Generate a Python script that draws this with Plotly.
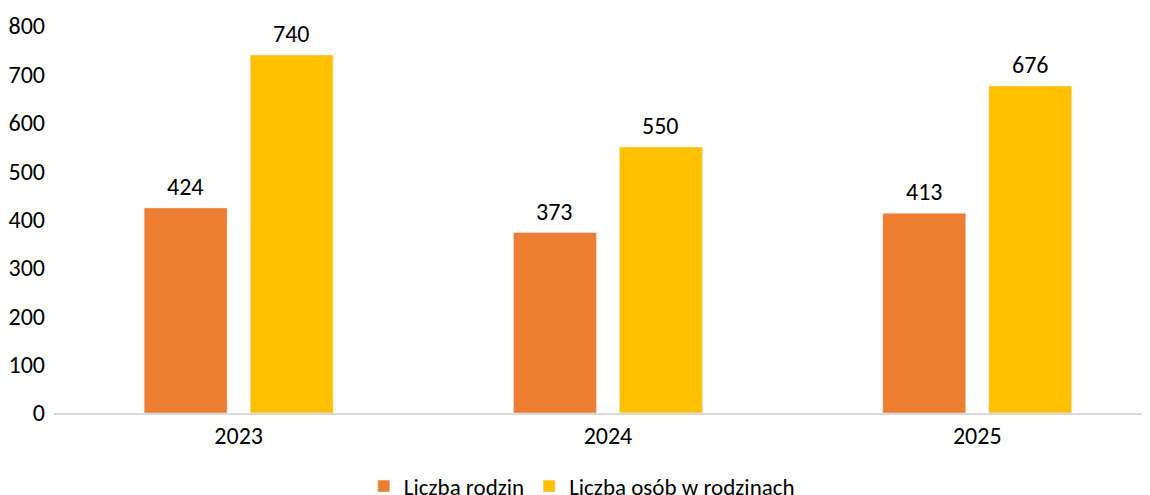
import plotly.graph_objects as go

years = ["2023", "2024", "2025"]
rodziny = [424, 373, 413]
osoby = [740, 550, 676]
y_ticks = [0, 100, 200, 300, 400, 500, 600, 700, 800]

FONT = "Calibri, Carlito, Lato, sans-serif"
FS = 24

fig = go.Figure()
fig.add_trace(go.Bar(name="Liczba rodzin", x=years, y=rodziny, marker_color="#ED7D31"))
fig.add_trace(go.Bar(name="Liczba osób w rodzinach", x=years, y=osoby, marker_color="#FFC000"))

for i, v in enumerate(rodziny):
    fig.add_annotation(x=i, y=v, text=str(v), showarrow=False, xref="x", yref="y",
                       yanchor="bottom", yshift=5, xshift=-53,
                       font=dict(size=FS, color="#000000", family=FONT))
for i, v in enumerate(osoby):
    fig.add_annotation(x=i, y=v, text=str(v), showarrow=False, xref="x", yref="y",
                       yanchor="bottom", yshift=5, xshift=53,
                       font=dict(size=FS, color="#000000", family=FONT))

fig.update_layout(
    width=1142, height=487,
    margin=dict(l=46, r=1, t=18, b=82, autoexpand=False),
    paper_bgcolor="white", plot_bgcolor="white",
    barmode="group", bargap=0.426, bargroupgap=0.217,
    font=dict(family=FONT, size=FS, color="#000000"),
    showlegend=True,
    legend=dict(orientation="h", x=0.482, xanchor="center", y=-0.189, yanchor="middle",
                font=dict(size=23, color="#000000", family=FONT),
                bgcolor="rgba(0,0,0,0)"),
)
fig.update_xaxes(
    type="category", range=[-0.5, 2.465], showgrid=False, zeroline=False,
    showline=True, linecolor="#D9D9D9", linewidth=1.5, ticks="",
    tickfont=dict(size=FS, color="#000000", family=FONT),
)
fig.update_yaxes(
    range=[0, 800], tickvals=y_ticks, showgrid=False, zeroline=False,
    showline=False, ticks="", ticklabelstandoff=8,
    tickfont=dict(size=FS, color="#000000", family=FONT),
)

fig.write_html("out.html")
